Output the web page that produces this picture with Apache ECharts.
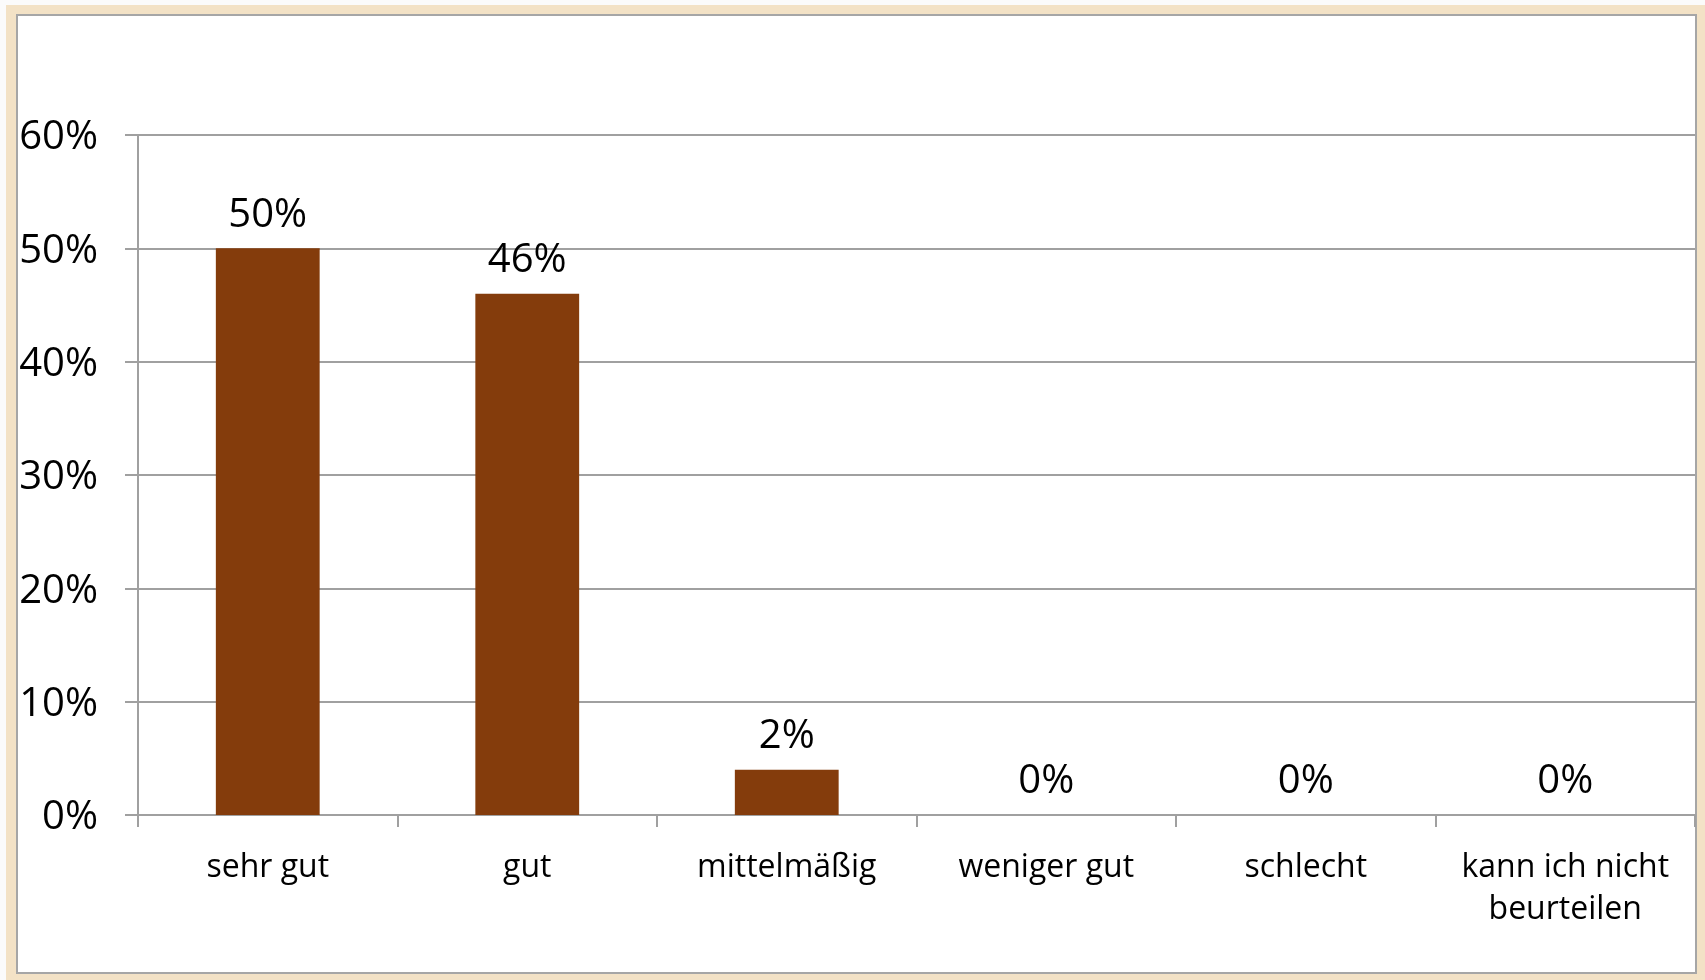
<!DOCTYPE html>
<html>
<head>
<meta charset="utf-8">
<script src="https://cdn.jsdelivr.net/npm/echarts@6/dist/echarts.min.js"></script>
<style>
  html, body { margin: 0; padding: 0; background: #fbfbfb; }
  .frame {
    position: absolute; left: 6px; top: 5px; width: 1699px; height: 975px;
    background: #f3e2c6;
  }
  .box {
    position: absolute; left: 16px; top: 14px; width: 1677px; height: 956px;
    background: #ffffff; border: 2px solid #a6a6a6;
  }
  #chart { position: absolute; left: 0; top: 0; width: 1705px; height: 980px; }
</style>
</head>
<body>
<div class="frame"></div>
<div class="box"></div>
<div id="chart"></div>
<script>
// categories on the x axis
const categories = ["sehr gut", "gut", "mittelmäßig", "weniger gut", "schlecht", "kann ich nicht\nbeurteilen"];
// bar heights in percent, as drawn
const values = [50, 46, 4, 0, 0, 0];
// value labels as printed above the bars
const valueLabels = ["50%", "46%", "2%", "0%", "0%", "0%"];
// y axis ticks
const yMin = 0, yMax = 60, yStep = 10;

const font = "'Open Sans', 'Noto Sans', sans-serif";
const gray = "#a0a0a0";

var myChart = echarts.init(document.getElementById("chart"));
var option = {
  animation: false,
  grid: { left: 138, right: 10, top: 135, bottom: 165 },
  xAxis: {
    type: "category",
    data: categories,
    boundaryGap: true,
    axisLine: { lineStyle: { color: gray, width: 2 } },
    axisTick: { show: true, length: 12, lineStyle: { color: gray, width: 2 } },
    axisLabel: {
      color: "#000",
      fontFamily: font,
      fontSize: 32,
      lineHeight: 42,
      margin: 32,
      interval: 0
    }
  },
  yAxis: {
    type: "value",
    min: yMin,
    max: yMax,
    interval: yStep,
    axisLine: { show: true, lineStyle: { color: gray, width: 2 } },
    axisTick: { show: true, length: 13, lineStyle: { color: gray, width: 2 } },
    splitLine: { lineStyle: { color: gray, width: 2 } },
    axisLabel: {
      color: "#000",
      fontFamily: font,
      fontSize: 40,
      margin: 40,
      verticalAlign: "top",
      padding: [-20, 0, 0, 0],
      lineHeight: 46,
      formatter: v => v + "%"
    }
  },
  series: [{
    type: "bar",
    data: values,
    barWidth: "40%",
    itemStyle: { color: "#843c0c" },
    label: {
      show: true,
      position: "top",
      distance: 13,
      color: "#000",
      fontFamily: font,
      fontSize: 40,
      formatter: p => valueLabels[p.dataIndex]
    }
  }]
};
myChart.setOption(option);
</script>
</body>
</html>
